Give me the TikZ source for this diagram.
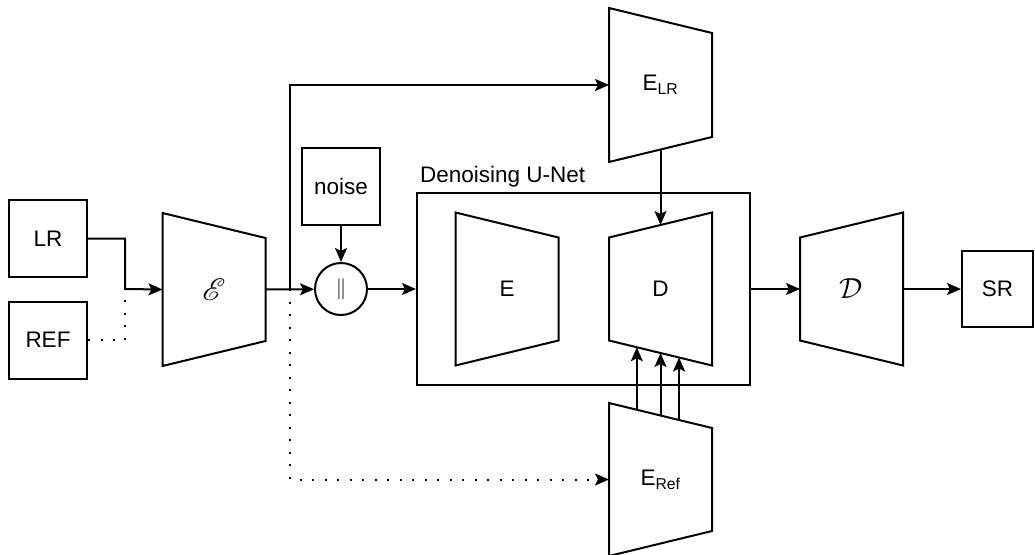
\documentclass[tikz,border=0pt]{standalone}
\usepackage{amsmath,amssymb}
\usepackage{mathrsfs}
\usepackage{graphicx}
\usepackage{fontspec}
\setmainfont{Liberation Sans}
\usepackage{tikz}
\usetikzlibrary{positioning,arrows.meta,calc}
\newcommand{\dfont}{\fontsize{22.5}{27}\selectfont}
\newcommand{\bigmath}[2]{\scalebox{#1}{\fontsize{10}{12}\selectfont$#2$}}
\newcommand{\trapblk}[6]{%
  \coordinate (#1-tl) at ({#2-51.5},{#3-#4});
  \coordinate (#1-bl) at ({#2-51.5},{#3+#4});
  \coordinate (#1-tr) at ({#2+51.5},{#3-#5});
  \coordinate (#1-br) at ({#2+51.5},{#3+#5});
  \coordinate (#1-w) at ({#2-51.5},#3);
  \coordinate (#1-e) at ({#2+51.5},#3);
  \draw[shp] (#1-tl) -- (#1-tr) -- (#1-br) -- (#1-bl) -- cycle;
  \node[lbl] (#1) at (#2,#3) {#6};}
\tikzset{
  box/.style ={draw, line width=2pt, minimum width=78pt, minimum height=77pt,
               inner sep=0pt, font=\dfont},
  shp/.style ={draw, line width=2pt, line join=miter},
  lbl/.style ={font=\dfont, inner sep=0pt},
  ar/.style  ={-{Stealth[length=14pt,width=12pt,inset=3pt]}, line width=2pt},
  dar/.style ={ar, dash pattern=on 2pt off 10.5pt},
  dln/.style ={line width=2pt, dash pattern=on 2pt off 10.5pt},
}
\begin{document}
\begin{tikzpicture}[x=1pt,y=-1pt]
\useasboundingbox (0,0) rectangle (1035,554);

% encoders / decoders
\trapblk{enc}{214}{289.5}{76.5}{51.5}{\bigmath{3.1}{\mathscr{E}}}
\trapblk{elr}{660.5}{85}{77}{52}{E\textsubscript{LR}}
\trapblk{eref}{660.5}{479.5}{76.5}{51.5}{E\textsubscript{Ref}}
\trapblk{dec}{851.5}{289}{51.5}{76.5}{\bigmath{2.9}{\mathcal{D}}}

% inputs
\node[box] (lr)  at (48,238.5) {LR};
\node[box] (ref) at (48,340) {REF};
\coordinate (mrg) at (125,289);
\draw[ar] (lr.east) -| (mrg) -- (enc-w);
\draw[dln] (ref.east) -| (mrg);

% denoising u-net
\node[box, minimum width=333pt, minimum height=192pt] (unet) at (583.5,289) {};
\node[lbl, anchor=base west] (unetlbl) at ([xshift=4pt,yshift=10pt]unet.north west) {Denoising U-Net};
\trapblk{ue}{507}{289}{76.5}{51.5}{E}
\trapblk{ud}{660.5}{289}{51.5}{76.5}{D}

% noise and concat
\node[box] (noise) at (341,186.5) {noise};
\node[draw, circle, line width=2pt, minimum size=52pt, inner sep=0pt] (cat) at (341,289)
   {\bigmath{2.1}{\|}};
\node[box, minimum width=71pt, minimum height=76pt] (sr) at (997.5,289) {SR};

% connections
\coordinate (jct) at (290,289);
\draw[ar] (enc-e) -- (cat);
\draw[ar] (jct) |- (elr-w);
\draw[dar] (jct) |- (eref-w);
\draw[ar] (noise) -- (cat);
\draw[ar] (cat) -- (unet);
\draw[ar] ($(elr-bl)!.5!(elr-br)$) -- ($(ud-tl)!.5!(ud-tr)$);
\foreach \f in {0.27,0.5,0.68}
  \draw[ar] ($(eref-tl)!\f!(eref-tr)$) -- ($(ud-bl)!\f!(ud-br)$);
\draw[ar] (unet) -- (dec-w);
\draw[ar] (dec-e) -- (sr);
\end{tikzpicture}
\end{document}
